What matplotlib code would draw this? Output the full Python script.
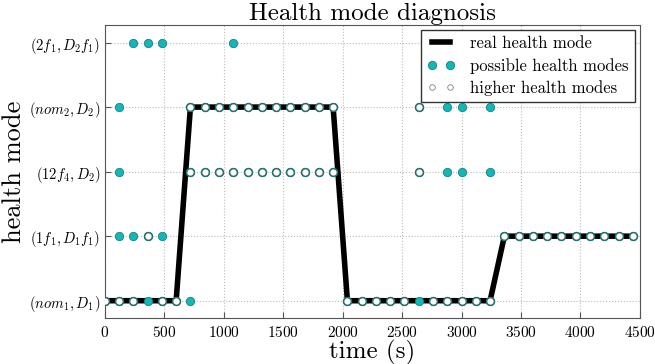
import matplotlib
matplotlib.use('Agg')
import matplotlib.pyplot as plt
from matplotlib.lines import Line2D

# health modes on the y axis (bottom to top)
mode_labels = [r'$(nom_1, D_1)$', r'$(1f_1, D_1f_1)$', r'$(12f_4, D_2)$',
               r'$(nom_2, D_2)$', r'$(2f_1, D_2f_1)$']

# real health mode, one value every 120 s
real_time = list(range(0, 4441, 120))
real_mode = [0] * 6 + [3] * 11 + [0] * 11 + [1] * 10

# possible health modes (time of each point, per mode level)
possible_times = {
    0: [0, 120, 240, 360, 480, 600, 720] + list(range(2040, 3241, 120)),
    1: [120, 240, 360, 480] + list(range(3360, 4441, 120)),
    2: [120] + list(range(720, 1921, 120)) + [2640, 2880, 3000, 3240],
    3: [120] + list(range(720, 1921, 120)) + [2640, 2880, 3000, 3240],
    4: [240, 360, 480, 1080],
}

# higher health modes
higher_times = {
    0: [0, 120, 240, 480, 600, 2040, 2160, 2280, 2400, 2520, 2760, 2880, 3000, 3120, 3240],
    1: [360] + list(range(3360, 4441, 120)),
    2: list(range(720, 1921, 120)) + [2640],
    3: list(range(720, 1921, 120)) + [2640],
    4: [],
}

plt.rcParams['font.family'] = 'serif'
plt.rcParams['font.serif'] = ['cmr10']
plt.rcParams['mathtext.fontset'] = 'cm'
plt.rcParams['axes.unicode_minus'] = False
plt.rcParams['axes.formatter.use_mathtext'] = True

fig = plt.figure(figsize=(6.55, 3.64), dpi=100)
ax = fig.add_axes([0.160, 0.126, 0.817, 0.805])

ax.plot(real_time, real_mode, color='black', lw=4, zorder=2)

px = []
py = []
for lvl in possible_times:
    for t in possible_times[lvl]:
        px.append(t)
        py.append(lvl)
ax.plot(px, py, 'o', color='#10b8b8', markeredgecolor='#1f7f7f', markeredgewidth=0.6,
        markersize=6, zorder=3)

hx = []
hy = []
for lvl in higher_times:
    for t in higher_times[lvl]:
        hx.append(t)
        hy.append(lvl)
ax.plot(hx, hy, 'o', color='white', markeredgecolor='#2a6e6e', markeredgewidth=1.1,
        markersize=5.6, zorder=4)

ax.set_xlim(0, 4500)
ax.set_ylim(-0.27, 4.27)
ax.set_xticks(range(0, 4501, 500))
ax.set_yticks(range(5))
ax.set_yticklabels(mode_labels)
ax.tick_params(direction='in', color='#555555', length=4)
ax.tick_params(axis='x', pad=5, labelsize=11)
ax.tick_params(axis='y', labelsize=10.5)
for s in ax.spines.values():
    s.set_color('#555555')
ax.grid(True, linestyle=':', color='#bbbbbb', lw=0.8)

ax.set_title('Health mode diagnosis', fontsize=18, pad=2)
ax.set_xlabel('time (s)', fontsize=18, labelpad=0)
ax.set_ylabel('health mode', fontsize=19, labelpad=2)

handles = [
    Line2D([], [], color='black', lw=4),
    Line2D([], [], ls='none', marker='o', color='#10b8b8', markeredgecolor='#1f7f7f',
           markeredgewidth=0.6, markersize=6),
    Line2D([], [], ls='none', marker='o', color='white', markeredgecolor='#808080',
           markeredgewidth=0.6, markersize=4),
]
ax.legend(handles, ['real health mode', 'possible health modes', 'higher health modes'],
          loc='upper right', numpoints=2, fontsize=12, fancybox=False,
          edgecolor='#333333', framealpha=1, handlelength=1.7, handletextpad=0.9,
          borderaxespad=0.3, labelspacing=0.4, borderpad=0.35)

fig.savefig('out.png', dpi=100)
